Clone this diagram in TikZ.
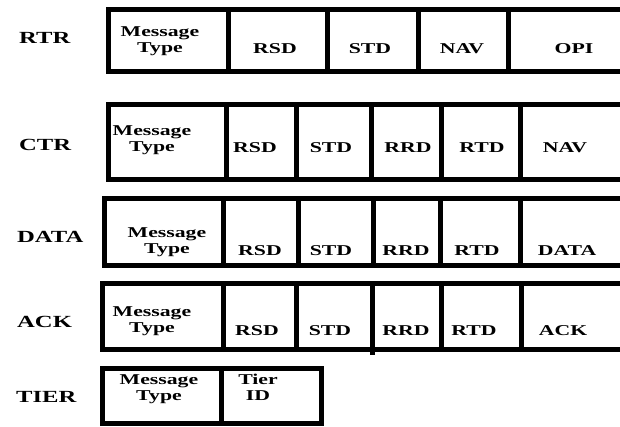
\documentclass[tikz,border=0pt]{standalone}
\usepackage{fontspec}
\setmainfont{Liberation Serif}[FakeStretch=1.45]
\begin{document}
\begin{tikzpicture}[
    x=1pt, y=-1pt,
    frame/.style={line width=5pt},
    field/.style={font=\fontsize{15pt}{15.5pt}\selectfont\bfseries, align=center, anchor=base, inner sep=0pt},
    msgname/.style={font=\fontsize{17pt}{20pt}\selectfont\bfseries, anchor=base west, inner sep=0pt}
]
    \clip (0,0) rectangle (620,426);

    % --- RTR ---
    \node[msgname] (rtr) at (19,43) {RTR};
    \draw[frame] (108,9.5) rectangle (625,71.5);
    \foreach \x in {228,327,418,508} \draw[frame] (\x,9.5) -- (\x,71.5);
    \node[field] (rtr-type) at (160,52) {Message\\Type};
    \foreach \x/\t in {275/RSD, 370/STD, 462/NAV, 574/OPI}
        \node[field] (rtr-\t) at (\x,53) {\t};

    % --- CTR ---
    \node[msgname] (ctr) at (19,150) {CTR};
    \draw[frame] (108,104.5) rectangle (625,179.5);
    \foreach \x in {226.5,296.5,371.5,441.5,520} \draw[frame] (\x,104.5) -- (\x,179.5);
    \node[field] (ctr-type) at (152,151) {Message\\Type};
    \foreach \x/\t in {255/RSD, 331/STD, 408/RRD, 482/RTD, 565/NAV}
        \node[field] (ctr-\t) at (\x,152) {\t};

    % --- DATA ---
    \node[msgname] (data) at (17,242) {DATA};
    \draw[frame] (104,198.5) rectangle (625,265.5);
    \foreach \x in {223,298,373,440,520} \draw[frame] (\x,198.5) -- (\x,265.5);
    \node[field] (data-type) at (167,253) {Message\\Type};
    \foreach \x/\t in {260/RSD, 331/STD, 406/RRD, 477/RTD, 567/DATA}
        \node[field] (data-\t) at (\x,255) {\t};

    % --- ACK ---
    \node[msgname] (ack) at (17,327) {ACK};
    \draw[frame] (102.5,283) rectangle (625,349);
    \foreach \x in {223,296,441,521} \draw[frame] (\x,283) -- (\x,349);
    \draw[frame] (372,283) -- (372,355); % sticks out below
    \node[field] (ack-type) at (152,332) {Message\\Type};
    \foreach \x/\t in {257/RSD, 330/STD, 406/RRD, 474/RTD, 563/ACK}
        \node[field] (ack-\t) at (\x,335) {\t};

    % --- TIER ---
    \node[msgname] (tier) at (16,402) {TIER};
    \draw[frame] (102,368.5) rectangle (321,423.5);
    \draw[frame] (221,368.5) -- (221,423.5);
    \node[field] (tier-type) at (159,400) {Message\\Type};
    \node[field] (tier-id) at (258,400) {Tier\\ID};

\end{tikzpicture}
\end{document}
